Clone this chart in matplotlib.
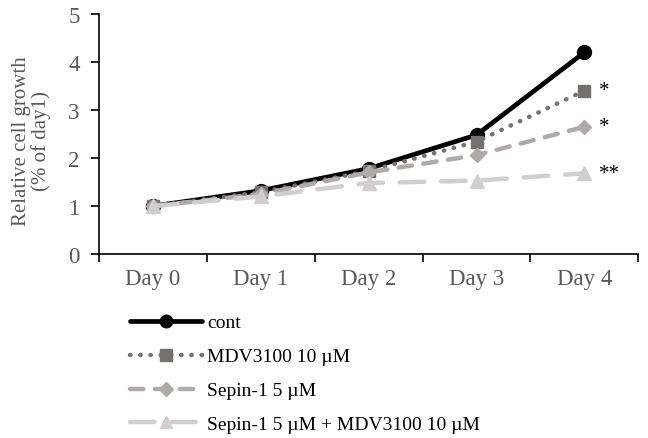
"""Relative cell growth over four days for the treatment groups."""
import matplotlib

matplotlib.use("Agg")
import matplotlib.pyplot as plt

days = ["Day 0", "Day 1", "Day 2", "Day 3", "Day 4"]
cont = [1.0, 1.32, 1.78, 2.48, 4.2]
mdv = [1.0, 1.29, 1.73, 2.34, 3.4]
sepin = [1.0, 1.25, 1.70, 2.06, 2.65]
combo = [1.0, 1.20, 1.48, 1.53, 1.68]
labels = ["cont", "MDV3100 10 \u00b5M", "Sepin-1 5 \u00b5M",
          "Sepin-1 5 \u00b5M + MDV3100 10 \u00b5M"]
stars = ["", "*", "*", "**"]

plt.rcParams["font.family"] = ["Liberation Serif", "DejaVu Serif"]

fig = plt.figure(figsize=(6.48, 4.39), dpi=100)
ax = fig.add_axes([0.153, 0.419, 0.832, 0.547])
x = range(len(days))

series = [
    (cont, "#000000", "o", 10, dict(ls="-", lw=3.4)),
    (mdv, "#767171", "s", 9, dict(ls=(0, (0.1, 2.2)), lw=3.2)),
    (sepin, "#AEAAAA", "D", 7.5, dict(ls=(0, (3.0, 2.6)), lw=3.2)),
    (combo, "#D0CECE", "^", 9.5, dict(ls=(0, (5.5, 3.8)), lw=3.2)),
]
handles = []
for (vals, col, mk, ms, st), lab, s in zip(series, labels, stars):
    h, = ax.plot(x, vals, color=col, marker=mk, markersize=ms,
                 dash_capstyle="round", solid_capstyle="round", label=lab, **st)
    handles.append(h)
    if s:
        ax.text(len(days) - 1 + 0.14, vals[-1], s, fontsize=15,
                va="center", ha="left", color="#000000")

ax.set_xlim(-0.5, len(days) - 0.5)
ax.set_ylim(0, 5)
ax.set_xticks(list(x))
ax.set_xticklabels(days)
ax.set_xticks([i - 0.5 for i in range(len(days) + 1)], minor=True)
ax.tick_params(axis="x", which="major", length=0, pad=10, labelsize=16.5,
               labelcolor="#595959")
ax.tick_params(axis="x", which="minor", length=6, width=1.2, direction="out")
ax.tick_params(axis="y", length=6, width=1.2, labelsize=16.5,
               labelcolor="#595959", pad=8)
ax.set_yticks(range(6))
for side in ("top", "right"):
    ax.spines[side].set_visible(False)
for side in ("left", "bottom"):
    ax.spines[side].set_linewidth(1.2)
ax.set_ylabel("Relative cell growth\n(% of day1)", fontsize=15,
              color="#595959", linespacing=0.95)
ax.yaxis.set_label_coords(-0.09, 0.475)

fig.legend(handles=handles, loc="upper left", bbox_to_anchor=(0.185, 0.305),
           frameon=False, fontsize=14, handlelength=3.7, labelspacing=0.84,
           handletextpad=0.3, markerscale=0.9, borderpad=0)

fig.savefig("out.png", dpi=100)
